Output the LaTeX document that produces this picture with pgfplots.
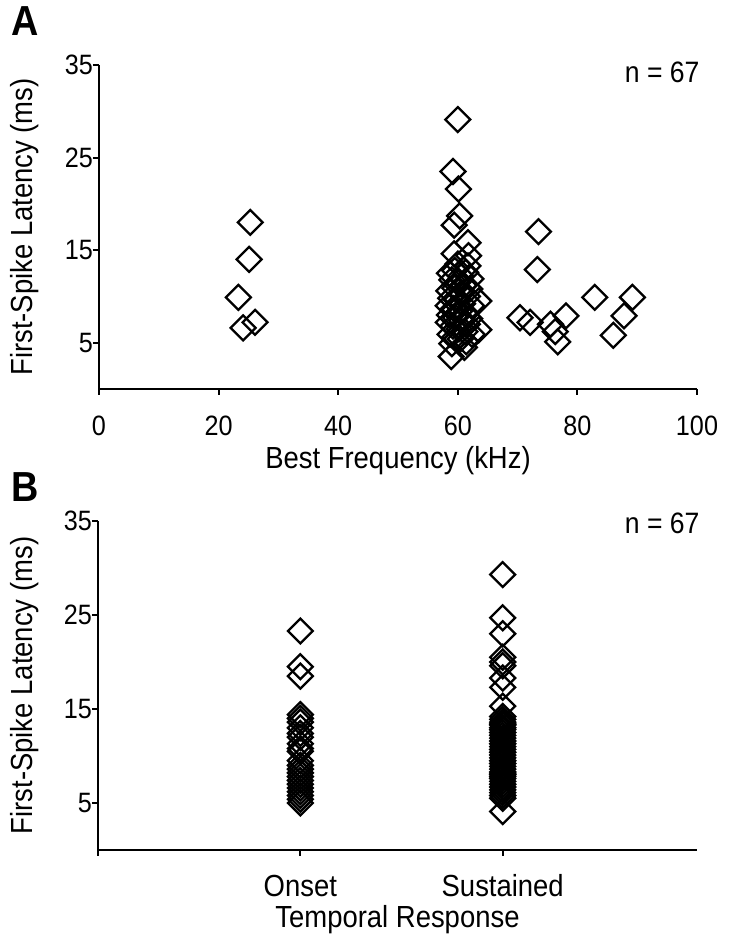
\documentclass[border=0pt]{standalone}
\usepackage{fontspec}
\setmainfont{Liberation Sans}[FakeStretch=0.9]
\usepackage{pgfplots}
\usepackage{pgfplotstable}
\pgfplotsset{compat=1.18}

\pgfplotstableread{
x y
25.3 18.0
25.1 14.0
23.3 9.9
24.1 6.6
26.1 7.2
70.4 7.7
72.1 7.2
73.5 17.0
73.3 12.9
75.5 7.0
76.3 6.2
76.7 5.1
78.1 7.9
82.9 9.9
86.0 5.8
87.8 7.9
89.2 9.9
60.0 29.1
59.2 23.5
60.1 21.6
60.3 18.7
59.4 17.7
61.7 15.8
59.4 14.6
61.7 13.3
62.2 11.9
63.5 9.5
63.5 6.4
58.9 3.5
61.1 4.5
58.6 12.5
59.5 12.8
60.5 12.2
61.3 12.6
59.0 11.8
60.0 11.5
61.0 11.2
62.0 10.8
58.5 10.6
59.5 10.9
60.6 10.4
61.6 10.0
58.8 9.8
59.8 9.6
60.8 9.2
62.3 9.0
58.4 9.0
59.3 8.7
60.3 8.4
61.3 8.1
62.0 7.6
58.6 8.0
59.6 7.7
60.6 7.4
61.6 7.0
58.4 7.2
59.2 6.8
60.2 6.5
61.2 6.2
62.4 5.9
58.7 5.9
59.5 5.6
60.4 5.4
61.4 5.1
59.0 4.9
60.0 13.5
61.8 14.4
}\dataA

\pgfplotstableread{
x y
1 23.3
1 19.5
1 18.5
1 14.4
1 14.0
1 13.6
1 13.0
1 12.4
1 12.0
1 11.3
1 10.8
1 10.5
1 9.5
1 9.0
1 8.6
1 8.2
1 7.8
1 7.4
1 7.0
1 6.6
1 6.2
1 5.8
1 5.4
1 5.0
}\dataOnset

\pgfplotstableread{
x y
2 29.3
2 24.7
2 23.0
2 20.5
2 20.0
2 19.6
2 18.3
2 17.3
2 15.3
2 14.2
2 13.9
2 13.6
2 13.4
2 13.3
2 13.0
2 12.8
2 12.5
2 12.2
2 11.9
2 11.6
2 11.3
2 11.0
2 10.7
2 10.4
2 10.1
2 9.8
2 9.5
2 9.2
2 8.9
2 8.6
2 8.3
2 8.1
2 8.0
2 7.8
2 7.6
2 7.3
2 7.0
2 6.7
2 6.4
2 6.1
2 5.8
2 5.5
2 4.1
}\dataSustained

\pgfplotsset{
  myax/.style={
    scale only axis,
    axis lines=left,
    axis line style={-, line width=2.5pt, black},
    tick align=outside,
    major tick length=6pt,
    tick style={line width=2pt, black},
    ymin=0, ymax=35, ytick={5,15,25,35},
    /pgf/number format/assume math mode=true,
    tick label style={font=\fontsize{28}{32}\selectfont},
    label style={font=\fontsize{30.5}{34}\selectfont},
    yticklabel style={anchor=east, inner sep=0pt},
    xticklabel style={anchor=center, inner sep=0pt},
    clip=false,
  },
  dia/.style={only marks, mark=square, mark size=8.8pt,
    mark options={rotate=45, line width=2.3pt, draw=black, fill=none}},
}

\begin{document}
\begin{tikzpicture}
\useasboundingbox (0,0) rectangle (750pt,943pt);

\begin{axis}[myax,
  at={(99pt,554pt)}, anchor=south west,
  width=598pt, height=324pt,
  xmin=0, xmax=100, xtick={0,20,40,60,80,100},
  xlabel={Best Frequency (kHz)},
  ylabel={First-Spike Latency (ms)},
  xlabel style={at={(axis description cs:0.5,-0.222)}, anchor=center},
  ylabel style={at={(axis description cs:-0.124,0.5)}, anchor=center, rotate=0},
  xticklabel style={yshift=-31pt},
]
\addplot[dia] table[x=x,y=y] {\dataA};
\node[anchor=east, font=\fontsize{29.5}{34}\selectfont] at (axis description cs:1.01,0.978) {n = 67};
\end{axis}

\begin{axis}[myax,
  at={(98pt,93pt)}, anchor=south west,
  width=599pt, height=329pt,
  xmin=0, xmax=2.96, xtick={0,1,2}, xticklabels={,Onset,Sustained},
  xlabel={Temporal Response},
  ylabel={First-Spike Latency (ms)},
  xlabel style={at={(axis description cs:0.5,-0.213)}, anchor=center},
  ylabel style={at={(axis description cs:-0.122,0.5)}, anchor=center, rotate=0},
  xticklabel style={yshift=-30pt, font=\fontsize{30.5}{34}\selectfont},
]
\addplot[dia] table[x=x,y=y] {\dataOnset};
\addplot[dia] table[x=x,y=y] {\dataSustained};
\node[anchor=east, font=\fontsize{29.5}{34}\selectfont] at (axis description cs:1.01,0.994) {n = 67};
\end{axis}

\node[font=\bfseries\fontsize{42}{48}\selectfont] at (25pt,922pt) {A};
\node[font=\bfseries\fontsize{42}{48}\selectfont] at (25pt,456pt) {B};
\end{tikzpicture}
\end{document}
